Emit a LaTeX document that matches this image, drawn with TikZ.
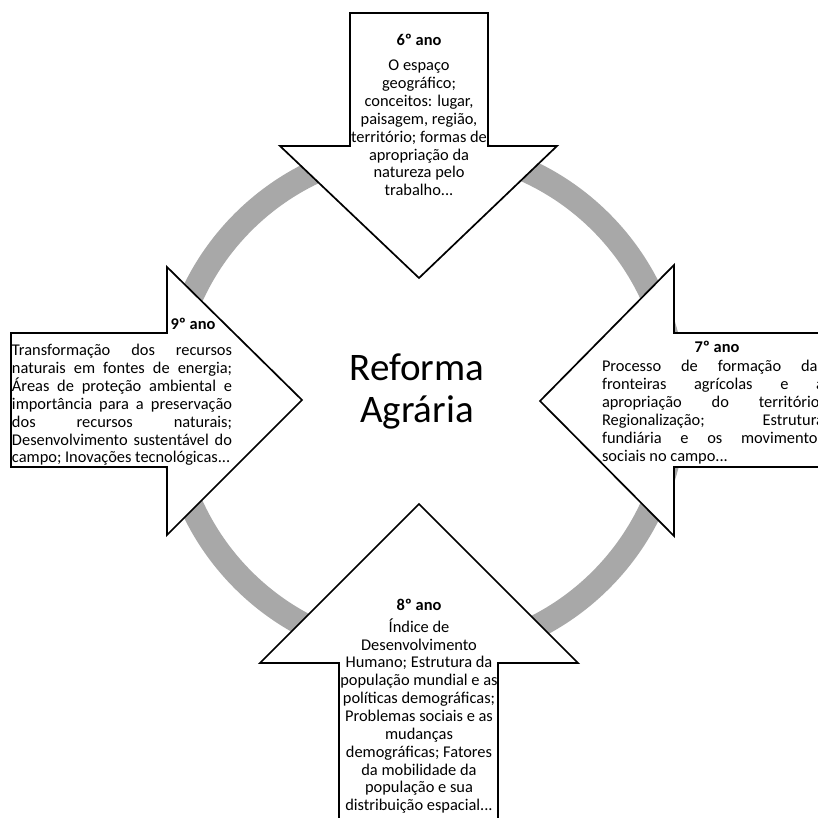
\documentclass[tikz,border=0pt]{standalone}
\usepackage{fontspec}
\setmainfont{Carlito}
\definecolor{ringgray}{RGB}{168,168,168}
\tikzset{
 arrowshape/.style={draw=black, fill=white, line width=1.7pt, line join=miter},
 bodytext/.style={inner sep=0pt, font=\fontsize{16.4}{17.86}\selectfont, align=center},
 titletext/.style={inner sep=0pt, font=\fontsize{16.4}{17.86}\selectfont\bfseries},
 centertext/.style={inner sep=0pt, font=\fontsize{39}{42}\selectfont, align=center}
}
\newcommand{\jlinea}[1]{\makebox[220pt][s]{#1}}
\newcommand{\jlineb}[1]{\makebox[222pt][s]{#1}}
\begin{document}
\begin{tikzpicture}[x=1pt,y=-1pt]
\useasboundingbox (0,0) rectangle (818,818);
\clip (0,0) rectangle (818,818);
\fill[white] (0,0) rectangle (818,818);
\draw[ringgray, line width=24pt] (422,401) circle[radius=253pt];
% top arrow (6º ano)
\draw[arrowshape] (350,13) -- (488,13) -- (488,146) -- (557,146) -- (419,278) -- (280,146) -- (350,146) -- cycle;
% bottom arrow (8º ano)
\draw[arrowshape] (419,504) -- (578,663) -- (498,663) -- (498,830) -- (339,830) -- (339,663) -- (260,663) -- cycle;
% left arrow (9º ano)
\draw[arrowshape] (11,333) -- (167,333) -- (167,267) -- (302,400) -- (167,535) -- (167,467) -- (11,467) -- cycle;
% right arrow (7º ano)
\draw[arrowshape] (540,401) -- (674,265) -- (674,333) -- (830,333) -- (830,467) -- (674,467) -- (674,536) -- cycle;

\node[centertext] (center) at (417,391) {Reforma\\Agrária};

\node[titletext] (t6) at (419,40) {6º ano};
\node[bodytext] (b6) at (419,128) {O espaço\\geográfico;\\conceitos: lugar,\\paisagem, região,\\território; formas de\\apropriação da\\natureza pelo\\trabalho...};

\node[titletext] (t9) at (193,324) {9º ano};
\node[bodytext, align=left] (b9) at (122,405) {\jlinea{Transformação dos recursos}\\ \jlinea{naturais em fontes de energia;}\\ \jlinea{Áreas de proteção ambiental e}\\ \jlinea{importância para a preservação}\\ \jlinea{dos recursos naturais;}\\ \jlinea{Desenvolvimento sustentável do}\\ campo; Inovações tecnológicas...};

\node[titletext] (t7) at (717,347) {7º ano};
\node[bodytext, align=left] (b7) at (713,412) {\jlineb{Processo de formação das}\\ \jlineb{fronteiras agrícolas e a}\\ \jlineb{apropriação do território;}\\ \jlineb{Regionalização; Estrutura}\\ \jlineb{fundiária e os movimentos}\\ sociais no campo...};

\node[titletext] (t8) at (419,605) {8º ano};
\node[bodytext] (b8) at (419,716) {Índice de\\Desenvolvimento\\Humano; Estrutura da\\população mundial e as\\políticas demográficas;\\Problemas sociais e as\\mudanças\\demográficas; Fatores\\da mobilidade da\\população e sua\\distribuição espacial...};
\end{tikzpicture}
\end{document}
